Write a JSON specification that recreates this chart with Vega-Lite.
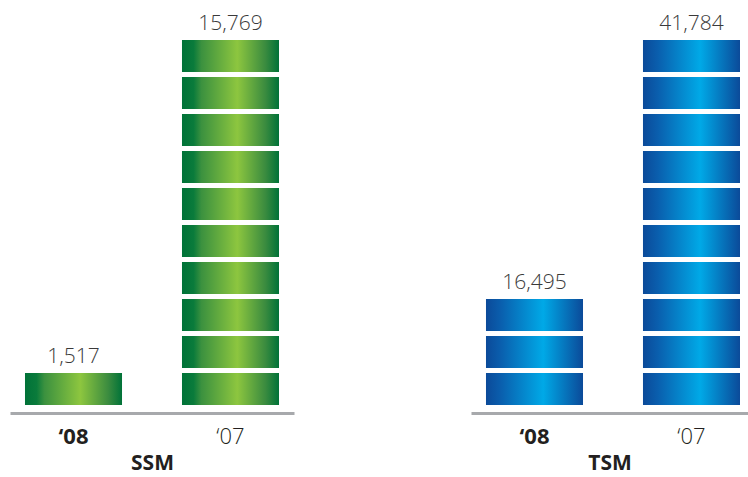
{
  "$schema": "https://vega.github.io/schema/vega-lite/v6.json",
  "padding": {"left": 10, "top": 13, "right": 0, "bottom": 2},
  "spacing": 177,
  "bounds": "flush",
  "datasets": {
    "blocks": [
      {"company": "SSM", "year": "‘08", "block": 1},
      {"company": "SSM", "year": "‘07", "block": 1},
      {"company": "SSM", "year": "‘07", "block": 2},
      {"company": "SSM", "year": "‘07", "block": 3},
      {"company": "SSM", "year": "‘07", "block": 4},
      {"company": "SSM", "year": "‘07", "block": 5},
      {"company": "SSM", "year": "‘07", "block": 6},
      {"company": "SSM", "year": "‘07", "block": 7},
      {"company": "SSM", "year": "‘07", "block": 8},
      {"company": "SSM", "year": "‘07", "block": 9},
      {"company": "SSM", "year": "‘07", "block": 10},
      {"company": "TSM", "year": "‘08", "block": 1},
      {"company": "TSM", "year": "‘08", "block": 2},
      {"company": "TSM", "year": "‘08", "block": 3},
      {"company": "TSM", "year": "‘07", "block": 1},
      {"company": "TSM", "year": "‘07", "block": 2},
      {"company": "TSM", "year": "‘07", "block": 3},
      {"company": "TSM", "year": "‘07", "block": 4},
      {"company": "TSM", "year": "‘07", "block": 5},
      {"company": "TSM", "year": "‘07", "block": 6},
      {"company": "TSM", "year": "‘07", "block": 7},
      {"company": "TSM", "year": "‘07", "block": 8},
      {"company": "TSM", "year": "‘07", "block": 9},
      {"company": "TSM", "year": "‘07", "block": 10}
    ],
    "totals": [
      {"company": "SSM", "year": "‘08", "value": 1517, "blocks": 1},
      {"company": "SSM", "year": "‘07", "value": 15769, "blocks": 10},
      {"company": "TSM", "year": "‘08", "value": 16495, "blocks": 3},
      {"company": "TSM", "year": "‘07", "value": 41784, "blocks": 10}
    ]
  },
  "config": {
    "view": {"stroke": null},
    "axis": {
      "domainColor": "#a7a9ac",
      "domainWidth": 3,
      "ticks": false,
      "grid": false,
      "labelAngle": 0,
      "labelFont": "Open Sans",
      "labelFontSize": 22,
      "labelColor": "#231f20",
      "labelPadding": 13,
      "offset": 8,
      "titleFont": "Open Sans",
      "titleFontSize": 21,
      "titleFontWeight": "bold",
      "titleColor": "#231f20",
      "titlePadding": 5
    }
  },
  "hconcat": [
    {
      "width": 284,
      "height": 365,
      "layer": [
        {
          "data": {"name": "blocks"},
          "transform": [{"filter": "datum.company == 'SSM'"}],
          "mark": {
            "type": "bar",
            "fill": {
              "gradient": "linear", "x1": 0, "y1": 0, "x2": 1, "y2": 0,
              "stops": [
                {"offset": 0, "color": "#007238"},
                {"offset": 0.12, "color": "#0a7b3b"},
                {"offset": 0.2, "color": "#3b913f"},
                {"offset": 0.57, "color": "#8dc63f"},
                {"offset": 0.86, "color": "#3a8b3f"},
                {"offset": 1, "color": "#007238"}
              ]
            }
          },
          "encoding": {
            "x": {
              "field": "year", "type": "nominal", "sort": ["‘08", "‘07"],
              "scale": {"paddingInner": 0.382, "paddingOuter": 0.0955},
              "title": "SSM",
              "axis": {"labelFontWeight": {"condition": {"test": "datum.value == '‘08'", "value": "bold"}, "value": 300}}
            },
            "y": {
              "field": "block", "type": "ordinal",
              "scale": {"domain": [10, 9, 8, 7, 6, 5, 4, 3, 2, 1], "paddingInner": 0.135, "paddingOuter": 0},
              "axis": null
            }
          }
        },
        {
          "data": {"name": "totals"},
          "transform": [{"filter": "datum.company == 'SSM'"}],
          "mark": {"type": "text", "baseline": "alphabetic", "dy": -10, "font": "Open Sans", "fontWeight": 300, "fontSize": 21, "color": "#3a3a3a"},
          "encoding": {
            "x": {"field": "year", "type": "nominal", "sort": ["‘08", "‘07"]},
            "y": {"field": "blocks", "type": "ordinal", "bandPosition": 0},
            "text": {"field": "value", "type": "quantitative", "format": ","}
          }
        }
      ]
    },
    {
      "width": 277,
      "height": 365,
      "layer": [
        {
          "data": {"name": "blocks"},
          "transform": [{"filter": "datum.company == 'TSM'"}],
          "mark": {
            "type": "bar",
            "fill": {
              "gradient": "linear", "x1": 0, "y1": 0, "x2": 1, "y2": 0,
              "stops": [
                {"offset": 0, "color": "#0b4a99"},
                {"offset": 0.15, "color": "#0a5ead"},
                {"offset": 0.59, "color": "#00a9e7"},
                {"offset": 1, "color": "#0b4a99"}
              ]
            }
          },
          "encoding": {
            "x": {
              "field": "year", "type": "nominal", "sort": ["‘08", "‘07"],
              "scale": {"paddingInner": 0.382, "paddingOuter": 0.0732, "align": 0.652},
              "title": "TSM",
              "axis": {"labelFontWeight": {"condition": {"test": "datum.value == '‘08'", "value": "bold"}, "value": 300}}
            },
            "y": {
              "field": "block", "type": "ordinal",
              "scale": {"domain": [10, 9, 8, 7, 6, 5, 4, 3, 2, 1], "paddingInner": 0.135, "paddingOuter": 0},
              "axis": null
            }
          }
        },
        {
          "data": {"name": "totals"},
          "transform": [{"filter": "datum.company == 'TSM'"}],
          "mark": {"type": "text", "baseline": "alphabetic", "dy": -10, "font": "Open Sans", "fontWeight": 300, "fontSize": 21, "color": "#3a3a3a"},
          "encoding": {
            "x": {"field": "year", "type": "nominal", "sort": ["‘08", "‘07"]},
            "y": {"field": "blocks", "type": "ordinal", "bandPosition": 0},
            "text": {"field": "value", "type": "quantitative", "format": ","}
          }
        }
      ]
    }
  ]
}
